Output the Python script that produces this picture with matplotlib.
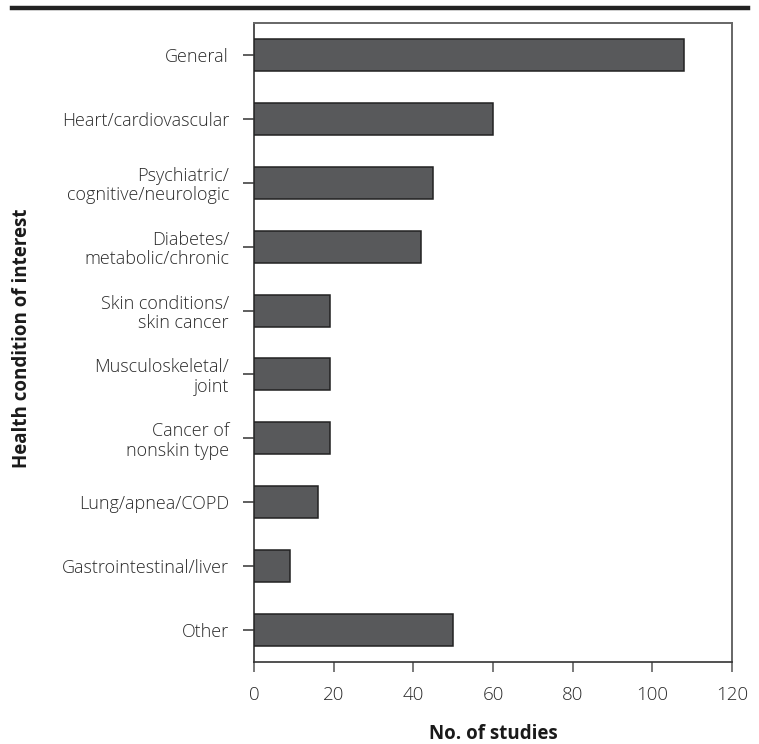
import matplotlib
matplotlib.use("Agg")
import matplotlib.pyplot as plt
from matplotlib.lines import Line2D

categories = [
    "General",
    "Heart/cardiovascular",
    "Psychiatric/\ncognitive/neurologic",
    "Diabetes/\nmetabolic/chronic",
    "Skin conditions/\nskin cancer",
    "Musculoskeletal/\njoint",
    "Cancer of\nnonskin type",
    "Lung/apnea/COPD",
    "Gastrointestinal/liver",
    "Other",
]
n_studies = [108, 60, 45, 42, 19, 19, 19, 16, 9, 50]
x_ticks = [0, 20, 40, 60, 80, 100, 120]

plt.rcParams["font.family"] = ["Open Sans", "DejaVu Sans"]

W, H = 759, 744
fig = plt.figure(figsize=(W / 100, H / 100), dpi=100)
ax = fig.add_axes([254 / W, (H - 662) / H, 478 / W, 639 / H])

ypos = list(range(len(categories)))
ax.barh(ypos, n_studies, height=0.5, color="#58595b", edgecolor="#222222",
        linewidth=1.1, zorder=3)

ax.set_ylim(len(categories) - 0.5, -0.5)
ax.set_xlim(0, 120)
ax.set_yticks(ypos)
ax.set_yticklabels(categories, fontsize=13, color="#2a2a2a",
                   linespacing=1.1, fontweight="light")
ax.set_xticks(x_ticks)
ax.set_xticklabels([str(t) for t in x_ticks], fontsize=13.5, color="#2a2a2a",
                   fontweight="light")

ax.tick_params(axis="y", length=8, width=1.1, color="#333333", pad=10)
ax.tick_params(axis="x", length=7.5, width=1.1, color="#555555", pad=10)

for side in ["top", "right"]:
    ax.spines[side].set_color("#666666")
    ax.spines[side].set_linewidth(1.4)
for side in ["left", "bottom"]:
    ax.spines[side].set_color("#333333")
    ax.spines[side].set_linewidth(1.2)

ax.set_xlabel("No. of studies", fontsize=13.5, fontweight="bold",
              color="#1a1a1a", labelpad=14)
fig.text(22 / W, 1 - 338 / H, "Health condition of interest", rotation=90,
         ha="center", va="center", fontsize=13.5, fontweight="bold",
         color="#1a1a1a")

# thick rule across the top
fig.add_artist(Line2D([12 / W, 748 / W], [1 - 8 / H, 1 - 8 / H],
                      color="#222222", linewidth=3.2, transform=fig.transFigure))

fig.savefig("out.png", dpi=100)
plt.close(fig)
